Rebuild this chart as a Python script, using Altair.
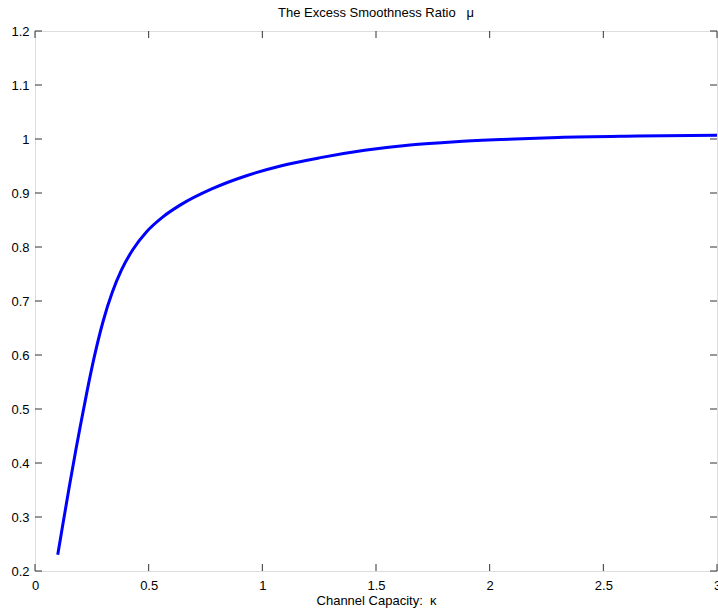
import altair as alt
import pandas as pd

# Curve values
kappa = [0.10, 0.12, 0.15, 0.18, 0.20, 0.23, 0.26, 0.30, 0.34, 0.38, 0.43, 0.49,
         0.56, 0.64, 0.78, 0.93, 1.08, 1.25, 1.45, 1.65, 1.85, 2.05, 2.30,
         2.65, 3.00]
mu = [0.230, 0.280, 0.354, 0.425, 0.470, 0.535, 0.595, 0.663, 0.716, 0.757,
      0.795, 0.828, 0.855, 0.878, 0.908, 0.932, 0.950, 0.965, 0.979, 0.989,
      0.995, 0.999, 1.003, 1.0055, 1.007]

x_ticks = [0, 0.5, 1, 1.5, 2, 2.5, 3]
y_ticks = [0.2, 0.3, 0.4, 0.5, 0.6, 0.7, 0.8, 0.9, 1.0, 1.1, 1.2]

W, H = 682, 540
FONT = "Liberation Sans"

df = pd.DataFrame({"kappa": kappa, "mu": mu})
xt = pd.DataFrame({"v": x_ticks})
yt = pd.DataFrame({"v": y_ticks})

xscale = alt.Scale(domain=[0, 3], nice=False, zero=False)
yscale = alt.Scale(domain=[0.2, 1.2], nice=False, zero=False)

xaxis = alt.Axis(values=x_ticks, ticks=False, domain=False, grid=False,
                 labelFont=FONT, labelFontSize=13, labelColor="black",
                 labelPadding=8, labelFlush=False, labelOverlap=False, format="~g",
                 title="Channel Capacity:\u00a0\u00a0κ", titleFont=FONT, titleFontSize=13,
                 titleFontWeight="normal", titleColor="black", titlePadding=2)
yaxis = alt.Axis(values=y_ticks, ticks=False, domain=False, grid=False,
                 labelFont=FONT, labelFontSize=13, labelColor="black",
                 labelPadding=6, labelFlush=False, labelOverlap=False,
                 title=None, format="~g")

line = alt.Chart(df).mark_line(color="#0000ff", strokeWidth=3,
                               interpolate="monotone").encode(
    x=alt.X("kappa:Q", scale=xscale, axis=xaxis),
    y=alt.Y("mu:Q", scale=yscale, axis=yaxis),
)

tick_style = dict(color="#333333", strokeWidth=1)
bottom_ticks = alt.Chart(xt).mark_rule(**tick_style).encode(
    x=alt.X("v:Q", scale=xscale), y=alt.value(H), y2=alt.value(H - 7))
top_ticks = alt.Chart(xt).mark_rule(**tick_style).encode(
    x=alt.X("v:Q", scale=xscale), y=alt.value(0), y2=alt.value(7))
left_ticks = alt.Chart(yt).mark_rule(**tick_style).encode(
    y=alt.Y("v:Q", scale=yscale), x=alt.value(0), x2=alt.value(7))
right_ticks = alt.Chart(yt).mark_rule(**tick_style).encode(
    y=alt.Y("v:Q", scale=yscale), x=alt.value(W), x2=alt.value(W - 7))

chart = alt.layer(line, bottom_ticks, top_ticks, left_ticks, right_ticks).properties(
    width=W, height=H,
    title=alt.TitleParams("The Excess Smoothness Ratio\u00a0\u00a0\u00a0μ", font=FONT,
                          fontSize=13, fontWeight="normal", color="black",
                          anchor="middle", offset=5),
    autosize=alt.AutoSizeParams(type="none"),
    padding={"left": 35, "top": 31, "right": 1, "bottom": 40},
).configure_view(stroke="black", strokeWidth=1.5).configure(background="white")

chart.save("out.html", embed_options={"renderer": "svg", "actions": False})
